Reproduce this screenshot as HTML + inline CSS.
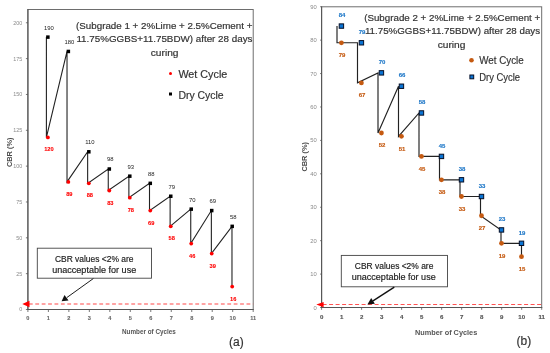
<!DOCTYPE html>
<html><head><meta charset="utf-8"><style>
html,body{margin:0;padding:0;background:#fff;}
body{width:550px;height:353px;overflow:hidden;font-family:"Liberation Sans", sans-serif;}
svg{display:block;font-family:"Liberation Sans", sans-serif;filter:blur(0.35px);}
</style></head><body>
<svg width="550" height="353" viewBox="0 0 550 353">
<rect width="550" height="353" fill="#fff"/>
<rect x="27.9" y="9.5" width="225.3" height="300.0" fill="none" stroke="#666" stroke-width="0.95"/>
<line x1="27.9" y1="9" x2="27.9" y2="310.0" stroke="#555" stroke-width="1.1"/>
<line x1="27.4" y1="309.5" x2="253.7" y2="309.5" stroke="#555" stroke-width="1.1"/>
<line x1="25.9" y1="309.50" x2="27.9" y2="309.50" stroke="#555" stroke-width="0.8"/>
<text x="22.30" y="311.40" font-size="5.4" fill="#8a8a8a" text-anchor="end" font-weight="normal" >0</text>
<line x1="25.9" y1="273.66" x2="27.9" y2="273.66" stroke="#555" stroke-width="0.8"/>
<text x="22.30" y="275.56" font-size="5.4" fill="#8a8a8a" text-anchor="end" font-weight="normal" >25</text>
<line x1="25.9" y1="237.82" x2="27.9" y2="237.82" stroke="#555" stroke-width="0.8"/>
<text x="22.30" y="239.72" font-size="5.4" fill="#8a8a8a" text-anchor="end" font-weight="normal" >50</text>
<line x1="25.9" y1="201.98" x2="27.9" y2="201.98" stroke="#555" stroke-width="0.8"/>
<text x="22.30" y="203.88" font-size="5.4" fill="#8a8a8a" text-anchor="end" font-weight="normal" >75</text>
<line x1="25.9" y1="166.14" x2="27.9" y2="166.14" stroke="#555" stroke-width="0.8"/>
<text x="22.30" y="168.04" font-size="5.4" fill="#8a8a8a" text-anchor="end" font-weight="normal" >100</text>
<line x1="25.9" y1="130.30" x2="27.9" y2="130.30" stroke="#555" stroke-width="0.8"/>
<text x="22.30" y="132.20" font-size="5.4" fill="#8a8a8a" text-anchor="end" font-weight="normal" >125</text>
<line x1="25.9" y1="94.46" x2="27.9" y2="94.46" stroke="#555" stroke-width="0.8"/>
<text x="22.30" y="96.36" font-size="5.4" fill="#8a8a8a" text-anchor="end" font-weight="normal" >150</text>
<line x1="25.9" y1="58.62" x2="27.9" y2="58.62" stroke="#555" stroke-width="0.8"/>
<text x="22.30" y="60.52" font-size="5.4" fill="#8a8a8a" text-anchor="end" font-weight="normal" >175</text>
<line x1="25.9" y1="22.78" x2="27.9" y2="22.78" stroke="#555" stroke-width="0.8"/>
<text x="22.30" y="24.68" font-size="5.4" fill="#8a8a8a" text-anchor="end" font-weight="normal" >200</text>
<line x1="27.90" y1="309.5" x2="27.90" y2="312.0" stroke="#555" stroke-width="0.8"/>
<text x="27.90" y="319.90" font-size="5.6" fill="#666" text-anchor="middle" font-weight="bold"  stroke="#666" stroke-width="0.1">0</text>
<line x1="48.38" y1="309.5" x2="48.38" y2="312.0" stroke="#555" stroke-width="0.8"/>
<text x="48.38" y="319.90" font-size="5.6" fill="#666" text-anchor="middle" font-weight="bold"  stroke="#666" stroke-width="0.1">1</text>
<line x1="68.86" y1="309.5" x2="68.86" y2="312.0" stroke="#555" stroke-width="0.8"/>
<text x="68.86" y="319.90" font-size="5.6" fill="#666" text-anchor="middle" font-weight="bold"  stroke="#666" stroke-width="0.1">2</text>
<line x1="89.34" y1="309.5" x2="89.34" y2="312.0" stroke="#555" stroke-width="0.8"/>
<text x="89.34" y="319.90" font-size="5.6" fill="#666" text-anchor="middle" font-weight="bold"  stroke="#666" stroke-width="0.1">3</text>
<line x1="109.82" y1="309.5" x2="109.82" y2="312.0" stroke="#555" stroke-width="0.8"/>
<text x="109.82" y="319.90" font-size="5.6" fill="#666" text-anchor="middle" font-weight="bold"  stroke="#666" stroke-width="0.1">4</text>
<line x1="130.30" y1="309.5" x2="130.30" y2="312.0" stroke="#555" stroke-width="0.8"/>
<text x="130.30" y="319.90" font-size="5.6" fill="#666" text-anchor="middle" font-weight="bold"  stroke="#666" stroke-width="0.1">5</text>
<line x1="150.78" y1="309.5" x2="150.78" y2="312.0" stroke="#555" stroke-width="0.8"/>
<text x="150.78" y="319.90" font-size="5.6" fill="#666" text-anchor="middle" font-weight="bold"  stroke="#666" stroke-width="0.1">6</text>
<line x1="171.26" y1="309.5" x2="171.26" y2="312.0" stroke="#555" stroke-width="0.8"/>
<text x="171.26" y="319.90" font-size="5.6" fill="#666" text-anchor="middle" font-weight="bold"  stroke="#666" stroke-width="0.1">7</text>
<line x1="191.74" y1="309.5" x2="191.74" y2="312.0" stroke="#555" stroke-width="0.8"/>
<text x="191.74" y="319.90" font-size="5.6" fill="#666" text-anchor="middle" font-weight="bold"  stroke="#666" stroke-width="0.1">8</text>
<line x1="212.22" y1="309.5" x2="212.22" y2="312.0" stroke="#555" stroke-width="0.8"/>
<text x="212.22" y="319.90" font-size="5.6" fill="#666" text-anchor="middle" font-weight="bold"  stroke="#666" stroke-width="0.1">9</text>
<line x1="232.70" y1="309.5" x2="232.70" y2="312.0" stroke="#555" stroke-width="0.8"/>
<text x="232.70" y="319.90" font-size="5.6" fill="#666" text-anchor="middle" font-weight="bold"  stroke="#666" stroke-width="0.1">10</text>
<line x1="253.18" y1="309.5" x2="253.18" y2="312.0" stroke="#555" stroke-width="0.8"/>
<text x="253.18" y="319.90" font-size="5.6" fill="#666" text-anchor="middle" font-weight="bold"  stroke="#666" stroke-width="0.1">11</text>
<text x="148.90" y="333.90" font-size="7.1" fill="#555" text-anchor="middle" font-weight="bold" textLength="53.8" lengthAdjust="spacingAndGlyphs" >Number of Cycles</text>
<text x="0" y="0" font-size="7.5" fill="#4a4a4a" font-weight="bold" text-anchor="middle" transform="translate(11.5 152.3) rotate(-90)" textLength="29.6" lengthAdjust="spacingAndGlyphs">CBR (%)</text>
<line x1="28.9" y1="304" x2="253.2" y2="304" stroke="#ff4848" stroke-width="1.15" stroke-dasharray="3.8 2.6"/>
<polygon points="22.3,304 29.5,300.8 29.5,307.2" fill="#ff0000"/>
<rect x="37.3" y="248.2" width="114.2" height="30" fill="#fff" stroke="#444" stroke-width="0.9"/>
<text x="94.20" y="261.60" font-size="9.0" fill="#222" text-anchor="middle" font-weight="normal" textLength="78.5" lengthAdjust="spacingAndGlyphs"  stroke="#222" stroke-width="0.18">CBR values &lt;2% are</text>
<text x="94.20" y="272.90" font-size="9.0" fill="#222" text-anchor="middle" font-weight="normal" textLength="84" lengthAdjust="spacingAndGlyphs"  stroke="#222" stroke-width="0.18">unacceptable for use</text>
<line x1="93.4" y1="278.5" x2="66.8" y2="297.6" stroke="#111" stroke-width="0.95"/>
<polygon points="61.6,301.3 64.5,294.9 68.5,300.4" fill="#111"/>
<polyline fill="none" stroke="#222" stroke-width="1.1" points="46.40,37.12 46.40,137.47 67.02,51.45 67.02,181.91 87.64,151.80 87.64,183.34 108.26,169.01 108.26,190.51 128.88,176.18 128.88,197.68 149.50,183.34 149.50,210.58 170.12,196.25 170.12,226.35 190.74,209.15 190.74,243.55 211.36,210.58 211.36,253.59 231.98,226.35 231.98,286.56"/>
<rect x="46.13" y="35.37" width="3.5" height="3.5" fill="#000"/>
<circle cx="47.88" cy="137.47" r="1.9" fill="#ff0000"/>
<text x="48.88" y="29.52" font-size="5.9" fill="#222" text-anchor="middle" font-weight="normal" >190</text>
<text x="48.88" y="151.47" font-size="5.7" fill="#ff0000" text-anchor="middle" font-weight="bold"  stroke="#ff0000" stroke-width="0.1">120</text>
<rect x="66.61" y="49.70" width="3.5" height="3.5" fill="#000"/>
<circle cx="68.36" cy="181.91" r="1.9" fill="#ff0000"/>
<text x="69.36" y="43.85" font-size="5.9" fill="#222" text-anchor="middle" font-weight="normal" >180</text>
<text x="69.36" y="195.91" font-size="5.7" fill="#ff0000" text-anchor="middle" font-weight="bold"  stroke="#ff0000" stroke-width="0.1">89</text>
<rect x="87.09" y="150.05" width="3.5" height="3.5" fill="#000"/>
<circle cx="88.84" cy="183.34" r="1.9" fill="#ff0000"/>
<text x="89.84" y="144.20" font-size="5.9" fill="#222" text-anchor="middle" font-weight="normal" >110</text>
<text x="89.84" y="197.34" font-size="5.7" fill="#ff0000" text-anchor="middle" font-weight="bold"  stroke="#ff0000" stroke-width="0.1">88</text>
<rect x="107.57" y="167.26" width="3.5" height="3.5" fill="#000"/>
<circle cx="109.32" cy="190.51" r="1.9" fill="#ff0000"/>
<text x="110.32" y="161.41" font-size="5.9" fill="#222" text-anchor="middle" font-weight="normal" >98</text>
<text x="110.32" y="204.51" font-size="5.7" fill="#ff0000" text-anchor="middle" font-weight="bold"  stroke="#ff0000" stroke-width="0.1">83</text>
<rect x="128.05" y="174.43" width="3.5" height="3.5" fill="#000"/>
<circle cx="129.80" cy="197.68" r="1.9" fill="#ff0000"/>
<text x="130.80" y="168.58" font-size="5.9" fill="#222" text-anchor="middle" font-weight="normal" >93</text>
<text x="130.80" y="211.68" font-size="5.7" fill="#ff0000" text-anchor="middle" font-weight="bold"  stroke="#ff0000" stroke-width="0.1">78</text>
<rect x="148.53" y="181.59" width="3.5" height="3.5" fill="#000"/>
<circle cx="150.28" cy="210.58" r="1.9" fill="#ff0000"/>
<text x="151.28" y="175.74" font-size="5.9" fill="#222" text-anchor="middle" font-weight="normal" >88</text>
<text x="151.28" y="224.58" font-size="5.7" fill="#ff0000" text-anchor="middle" font-weight="bold"  stroke="#ff0000" stroke-width="0.1">69</text>
<rect x="169.01" y="194.50" width="3.5" height="3.5" fill="#000"/>
<circle cx="170.76" cy="226.35" r="1.9" fill="#ff0000"/>
<text x="171.76" y="188.65" font-size="5.9" fill="#222" text-anchor="middle" font-weight="normal" >79</text>
<text x="171.76" y="240.35" font-size="5.7" fill="#ff0000" text-anchor="middle" font-weight="bold"  stroke="#ff0000" stroke-width="0.1">58</text>
<rect x="189.49" y="207.40" width="3.5" height="3.5" fill="#000"/>
<circle cx="191.24" cy="243.55" r="1.9" fill="#ff0000"/>
<text x="192.24" y="201.55" font-size="5.9" fill="#222" text-anchor="middle" font-weight="normal" >70</text>
<text x="192.24" y="257.55" font-size="5.7" fill="#ff0000" text-anchor="middle" font-weight="bold"  stroke="#ff0000" stroke-width="0.1">46</text>
<rect x="209.97" y="208.83" width="3.5" height="3.5" fill="#000"/>
<circle cx="211.72" cy="253.59" r="1.9" fill="#ff0000"/>
<text x="212.72" y="202.98" font-size="5.9" fill="#222" text-anchor="middle" font-weight="normal" >69</text>
<text x="212.72" y="267.59" font-size="5.7" fill="#ff0000" text-anchor="middle" font-weight="bold"  stroke="#ff0000" stroke-width="0.1">39</text>
<rect x="230.45" y="224.60" width="3.5" height="3.5" fill="#000"/>
<circle cx="232.20" cy="286.56" r="1.9" fill="#ff0000"/>
<text x="233.20" y="218.75" font-size="5.9" fill="#222" text-anchor="middle" font-weight="normal" >58</text>
<text x="233.20" y="300.56" font-size="5.7" fill="#ff0000" text-anchor="middle" font-weight="bold"  stroke="#ff0000" stroke-width="0.1">16</text>
<text x="76.10" y="29.00" font-size="9.0" fill="#333" text-anchor="start" font-weight="normal" textLength="176.3" lengthAdjust="spacingAndGlyphs"  stroke="#333" stroke-width="0.18">(Subgrade 1 + 2%Lime + 2.5%Cement +</text>
<text x="76.40" y="42.30" font-size="9.0" fill="#333" text-anchor="start" font-weight="normal" textLength="176.1" lengthAdjust="spacingAndGlyphs"  stroke="#333" stroke-width="0.18">11.75%GGBS+11.75BDW) after 28 days</text>
<text x="164.60" y="55.60" font-size="9.0" fill="#333" text-anchor="middle" font-weight="normal" textLength="27.7" lengthAdjust="spacingAndGlyphs"  stroke="#333" stroke-width="0.18">curing</text>
<circle cx="170.5" cy="73.4" r="1.5" fill="#ff0000"/>
<text x="178.40" y="77.80" font-size="10" fill="#333" text-anchor="start" font-weight="normal" textLength="48.9" lengthAdjust="spacingAndGlyphs"  stroke="#333" stroke-width="0.18">Wet Cycle</text>
<rect x="169" y="92.5" width="3" height="3" fill="#000"/>
<text x="178.40" y="98.60" font-size="10" fill="#333" text-anchor="start" font-weight="normal" textLength="45.3" lengthAdjust="spacingAndGlyphs"  stroke="#333" stroke-width="0.18">Dry Cycle</text>
<text x="229.10" y="345.50" font-size="12" fill="#333" text-anchor="start" font-weight="normal"  stroke="#333" stroke-width="0.18">(a)</text>
<rect x="321.6" y="6.8" width="220.1" height="300.7" fill="none" stroke="#666" stroke-width="0.95"/>
<line x1="321.6" y1="6.5" x2="321.6" y2="308.0" stroke="#555" stroke-width="1.1"/>
<line x1="321.1" y1="307.5" x2="542.2" y2="307.5" stroke="#555" stroke-width="1.1"/>
<line x1="320.1" y1="307.50" x2="321.6" y2="307.50" stroke="#555" stroke-width="0.8"/>
<text x="316.80" y="309.50" font-size="5.8" fill="#8a8a8a" text-anchor="end" font-weight="normal" >0</text>
<line x1="320.1" y1="274.08" x2="321.6" y2="274.08" stroke="#555" stroke-width="0.8"/>
<text x="316.80" y="276.08" font-size="5.8" fill="#8a8a8a" text-anchor="end" font-weight="normal" >10</text>
<line x1="320.1" y1="240.66" x2="321.6" y2="240.66" stroke="#555" stroke-width="0.8"/>
<text x="316.80" y="242.66" font-size="5.8" fill="#8a8a8a" text-anchor="end" font-weight="normal" >20</text>
<line x1="320.1" y1="207.24" x2="321.6" y2="207.24" stroke="#555" stroke-width="0.8"/>
<text x="316.80" y="209.24" font-size="5.8" fill="#8a8a8a" text-anchor="end" font-weight="normal" >30</text>
<line x1="320.1" y1="173.82" x2="321.6" y2="173.82" stroke="#555" stroke-width="0.8"/>
<text x="316.80" y="175.82" font-size="5.8" fill="#8a8a8a" text-anchor="end" font-weight="normal" >40</text>
<line x1="320.1" y1="140.40" x2="321.6" y2="140.40" stroke="#555" stroke-width="0.8"/>
<text x="316.80" y="142.40" font-size="5.8" fill="#8a8a8a" text-anchor="end" font-weight="normal" >50</text>
<line x1="320.1" y1="106.98" x2="321.6" y2="106.98" stroke="#555" stroke-width="0.8"/>
<text x="316.80" y="108.98" font-size="5.8" fill="#8a8a8a" text-anchor="end" font-weight="normal" >60</text>
<line x1="320.1" y1="73.56" x2="321.6" y2="73.56" stroke="#555" stroke-width="0.8"/>
<text x="316.80" y="75.56" font-size="5.8" fill="#8a8a8a" text-anchor="end" font-weight="normal" >70</text>
<line x1="320.1" y1="40.14" x2="321.6" y2="40.14" stroke="#555" stroke-width="0.8"/>
<text x="316.80" y="42.14" font-size="5.8" fill="#8a8a8a" text-anchor="end" font-weight="normal" >80</text>
<line x1="320.1" y1="6.72" x2="321.6" y2="6.72" stroke="#555" stroke-width="0.8"/>
<text x="316.80" y="8.72" font-size="5.8" fill="#8a8a8a" text-anchor="end" font-weight="normal" >90</text>
<line x1="321.60" y1="307.5" x2="321.60" y2="309.8" stroke="#555" stroke-width="0.8"/>
<text x="321.60" y="319.00" font-size="6.1" fill="#555" text-anchor="middle" font-weight="bold"  stroke="#555" stroke-width="0.15">0</text>
<line x1="341.61" y1="307.5" x2="341.61" y2="309.8" stroke="#555" stroke-width="0.8"/>
<text x="341.61" y="319.00" font-size="6.1" fill="#555" text-anchor="middle" font-weight="bold"  stroke="#555" stroke-width="0.15">1</text>
<line x1="361.62" y1="307.5" x2="361.62" y2="309.8" stroke="#555" stroke-width="0.8"/>
<text x="361.62" y="319.00" font-size="6.1" fill="#555" text-anchor="middle" font-weight="bold"  stroke="#555" stroke-width="0.15">2</text>
<line x1="381.63" y1="307.5" x2="381.63" y2="309.8" stroke="#555" stroke-width="0.8"/>
<text x="381.63" y="319.00" font-size="6.1" fill="#555" text-anchor="middle" font-weight="bold"  stroke="#555" stroke-width="0.15">3</text>
<line x1="401.64" y1="307.5" x2="401.64" y2="309.8" stroke="#555" stroke-width="0.8"/>
<text x="401.64" y="319.00" font-size="6.1" fill="#555" text-anchor="middle" font-weight="bold"  stroke="#555" stroke-width="0.15">4</text>
<line x1="421.65" y1="307.5" x2="421.65" y2="309.8" stroke="#555" stroke-width="0.8"/>
<text x="421.65" y="319.00" font-size="6.1" fill="#555" text-anchor="middle" font-weight="bold"  stroke="#555" stroke-width="0.15">5</text>
<line x1="441.66" y1="307.5" x2="441.66" y2="309.8" stroke="#555" stroke-width="0.8"/>
<text x="441.66" y="319.00" font-size="6.1" fill="#555" text-anchor="middle" font-weight="bold"  stroke="#555" stroke-width="0.15">6</text>
<line x1="461.67" y1="307.5" x2="461.67" y2="309.8" stroke="#555" stroke-width="0.8"/>
<text x="461.67" y="319.00" font-size="6.1" fill="#555" text-anchor="middle" font-weight="bold"  stroke="#555" stroke-width="0.15">7</text>
<line x1="481.68" y1="307.5" x2="481.68" y2="309.8" stroke="#555" stroke-width="0.8"/>
<text x="481.68" y="319.00" font-size="6.1" fill="#555" text-anchor="middle" font-weight="bold"  stroke="#555" stroke-width="0.15">8</text>
<line x1="501.69" y1="307.5" x2="501.69" y2="309.8" stroke="#555" stroke-width="0.8"/>
<text x="501.69" y="319.00" font-size="6.1" fill="#555" text-anchor="middle" font-weight="bold"  stroke="#555" stroke-width="0.15">9</text>
<line x1="521.70" y1="307.5" x2="521.70" y2="309.8" stroke="#555" stroke-width="0.8"/>
<text x="521.70" y="319.00" font-size="6.1" fill="#555" text-anchor="middle" font-weight="bold"  stroke="#555" stroke-width="0.15">10</text>
<line x1="541.71" y1="307.5" x2="541.71" y2="309.8" stroke="#555" stroke-width="0.8"/>
<text x="541.71" y="319.00" font-size="6.1" fill="#555" text-anchor="middle" font-weight="bold"  stroke="#555" stroke-width="0.15">11</text>
<text x="446.10" y="335.40" font-size="7.7" fill="#555" text-anchor="middle" font-weight="bold" textLength="62.4" lengthAdjust="spacingAndGlyphs" >Number of Cycles</text>
<text x="0" y="0" font-size="7.5" fill="#4a4a4a" font-weight="bold" text-anchor="middle" transform="translate(306.8 156.8) rotate(-90)" textLength="29.6" lengthAdjust="spacingAndGlyphs">CBR (%)</text>
<line x1="322.6" y1="304.5" x2="541.7" y2="304.5" stroke="#ff5252" stroke-width="1.1" stroke-dasharray="4 2.5"/>
<polygon points="316.3,304.6 323.6,301.9 323.6,307.2" fill="#ff0000"/>
<rect x="341.3" y="255.4" width="106.2" height="31.4" fill="#fff" stroke="#444" stroke-width="0.9"/>
<text x="394.10" y="268.80" font-size="9.0" fill="#222" text-anchor="middle" font-weight="normal" textLength="78.5" lengthAdjust="spacingAndGlyphs"  stroke="#222" stroke-width="0.18">CBR values &lt;2% are</text>
<text x="393.70" y="280.20" font-size="9.0" fill="#222" text-anchor="middle" font-weight="normal" textLength="84" lengthAdjust="spacingAndGlyphs"  stroke="#222" stroke-width="0.18">unacceptable for use</text>
<line x1="394.3" y1="287.2" x2="373" y2="300.9" stroke="#111" stroke-width="1.4"/>
<polygon points="367.4,304.5 371.2,298.0 374.9,303.7" fill="#111"/>
<polyline fill="none" stroke="#222" stroke-width="1.15" points="337.00,26.07 337.00,42.78 357.50,42.78 357.50,82.89 378.00,72.86 378.00,133.02 398.50,86.23 398.50,136.36 419.00,112.96 419.00,156.41 439.50,156.41 439.50,179.80 460.00,179.80 460.00,196.51 480.50,196.51 480.50,215.73 501.00,229.93 501.00,243.30 521.50,243.30 521.50,256.67"/>
<rect x="339.21" y="23.87" width="4.4" height="4.4" fill="#0a74d4" stroke="#061028" stroke-width="1.0"/>
<circle cx="341.41" cy="42.78" r="2.4" fill="#c55a11"/>
<text x="342.01" y="17.27" font-size="6.0" fill="#1f78c8" text-anchor="middle" font-weight="bold"  stroke="#1f78c8" stroke-width="0.15">84</text>
<text x="342.01" y="57.08" font-size="6.0" fill="#c55a11" text-anchor="middle" font-weight="bold"  stroke="#c55a11" stroke-width="0.15">79</text>
<rect x="359.22" y="40.58" width="4.4" height="4.4" fill="#0a74d4" stroke="#061028" stroke-width="1.0"/>
<circle cx="361.42" cy="82.89" r="2.4" fill="#c55a11"/>
<text x="362.02" y="33.98" font-size="6.0" fill="#1f78c8" text-anchor="middle" font-weight="bold"  stroke="#1f78c8" stroke-width="0.15">79</text>
<text x="362.02" y="97.19" font-size="6.0" fill="#c55a11" text-anchor="middle" font-weight="bold"  stroke="#c55a11" stroke-width="0.15">67</text>
<rect x="379.23" y="70.66" width="4.4" height="4.4" fill="#0a74d4" stroke="#061028" stroke-width="1.0"/>
<circle cx="381.43" cy="133.02" r="2.4" fill="#c55a11"/>
<text x="382.03" y="64.06" font-size="6.0" fill="#1f78c8" text-anchor="middle" font-weight="bold"  stroke="#1f78c8" stroke-width="0.15">70</text>
<text x="382.03" y="147.32" font-size="6.0" fill="#c55a11" text-anchor="middle" font-weight="bold"  stroke="#c55a11" stroke-width="0.15">52</text>
<rect x="399.24" y="84.03" width="4.4" height="4.4" fill="#0a74d4" stroke="#061028" stroke-width="1.0"/>
<circle cx="401.44" cy="136.36" r="2.4" fill="#c55a11"/>
<text x="402.04" y="77.43" font-size="6.0" fill="#1f78c8" text-anchor="middle" font-weight="bold"  stroke="#1f78c8" stroke-width="0.15">66</text>
<text x="402.04" y="150.66" font-size="6.0" fill="#c55a11" text-anchor="middle" font-weight="bold"  stroke="#c55a11" stroke-width="0.15">51</text>
<rect x="419.25" y="110.76" width="4.4" height="4.4" fill="#0a74d4" stroke="#061028" stroke-width="1.0"/>
<circle cx="421.45" cy="156.41" r="2.4" fill="#c55a11"/>
<text x="422.05" y="104.16" font-size="6.0" fill="#1f78c8" text-anchor="middle" font-weight="bold"  stroke="#1f78c8" stroke-width="0.15">58</text>
<text x="422.05" y="170.71" font-size="6.0" fill="#c55a11" text-anchor="middle" font-weight="bold"  stroke="#c55a11" stroke-width="0.15">45</text>
<rect x="439.26" y="154.21" width="4.4" height="4.4" fill="#0a74d4" stroke="#061028" stroke-width="1.0"/>
<circle cx="441.46" cy="179.80" r="2.4" fill="#c55a11"/>
<text x="442.06" y="147.61" font-size="6.0" fill="#1f78c8" text-anchor="middle" font-weight="bold"  stroke="#1f78c8" stroke-width="0.15">45</text>
<text x="442.06" y="194.10" font-size="6.0" fill="#c55a11" text-anchor="middle" font-weight="bold"  stroke="#c55a11" stroke-width="0.15">38</text>
<rect x="459.27" y="177.60" width="4.4" height="4.4" fill="#0a74d4" stroke="#061028" stroke-width="1.0"/>
<circle cx="461.47" cy="196.51" r="2.4" fill="#c55a11"/>
<text x="462.07" y="171.00" font-size="6.0" fill="#1f78c8" text-anchor="middle" font-weight="bold"  stroke="#1f78c8" stroke-width="0.15">38</text>
<text x="462.07" y="210.81" font-size="6.0" fill="#c55a11" text-anchor="middle" font-weight="bold"  stroke="#c55a11" stroke-width="0.15">33</text>
<rect x="479.28" y="194.31" width="4.4" height="4.4" fill="#0a74d4" stroke="#061028" stroke-width="1.0"/>
<circle cx="481.48" cy="215.73" r="2.4" fill="#c55a11"/>
<text x="482.08" y="187.71" font-size="6.0" fill="#1f78c8" text-anchor="middle" font-weight="bold"  stroke="#1f78c8" stroke-width="0.15">33</text>
<text x="482.08" y="230.03" font-size="6.0" fill="#c55a11" text-anchor="middle" font-weight="bold"  stroke="#c55a11" stroke-width="0.15">27</text>
<rect x="499.29" y="227.73" width="4.4" height="4.4" fill="#0a74d4" stroke="#061028" stroke-width="1.0"/>
<circle cx="501.49" cy="243.30" r="2.4" fill="#c55a11"/>
<text x="502.09" y="221.13" font-size="6.0" fill="#1f78c8" text-anchor="middle" font-weight="bold"  stroke="#1f78c8" stroke-width="0.15">23</text>
<text x="502.09" y="257.60" font-size="6.0" fill="#c55a11" text-anchor="middle" font-weight="bold"  stroke="#c55a11" stroke-width="0.15">19</text>
<rect x="519.30" y="241.10" width="4.4" height="4.4" fill="#0a74d4" stroke="#061028" stroke-width="1.0"/>
<circle cx="521.50" cy="256.67" r="2.4" fill="#c55a11"/>
<text x="522.10" y="234.50" font-size="6.0" fill="#1f78c8" text-anchor="middle" font-weight="bold"  stroke="#1f78c8" stroke-width="0.15">19</text>
<text x="522.10" y="270.97" font-size="6.0" fill="#c55a11" text-anchor="middle" font-weight="bold"  stroke="#c55a11" stroke-width="0.15">15</text>
<text x="364.20" y="20.90" font-size="9.0" fill="#333" text-anchor="start" font-weight="normal" textLength="176" lengthAdjust="spacingAndGlyphs"  stroke="#333" stroke-width="0.18">(Subgrade 2 + 2%Lime + 2.5%Cement +</text>
<text x="364.90" y="34.30" font-size="9.0" fill="#333" text-anchor="start" font-weight="normal" textLength="175.2" lengthAdjust="spacingAndGlyphs"  stroke="#333" stroke-width="0.18">11.75%GGBS+11.75BDW) after 28 days</text>
<text x="451.50" y="47.90" font-size="9.0" fill="#333" text-anchor="middle" font-weight="normal" textLength="27.7" lengthAdjust="spacingAndGlyphs"  stroke="#333" stroke-width="0.18">curing</text>
<circle cx="471.5" cy="60.3" r="2.3" fill="#c55a11"/>
<text x="479.20" y="63.80" font-size="10" fill="#333" text-anchor="start" font-weight="normal" textLength="44.5" lengthAdjust="spacingAndGlyphs"  stroke="#333" stroke-width="0.18">Wet Cycle</text>
<rect x="469.9" y="75.0" width="3.8" height="3.8" fill="#0a74d4" stroke="#061028" stroke-width="1.0"/>
<text x="479.20" y="80.70" font-size="10" fill="#333" text-anchor="start" font-weight="normal" textLength="40.9" lengthAdjust="spacingAndGlyphs"  stroke="#333" stroke-width="0.18">Dry Cycle</text>
<text x="516.50" y="345.30" font-size="12" fill="#333" text-anchor="start" font-weight="normal"  stroke="#333" stroke-width="0.18">(b)</text>
</svg>
</body></html>
